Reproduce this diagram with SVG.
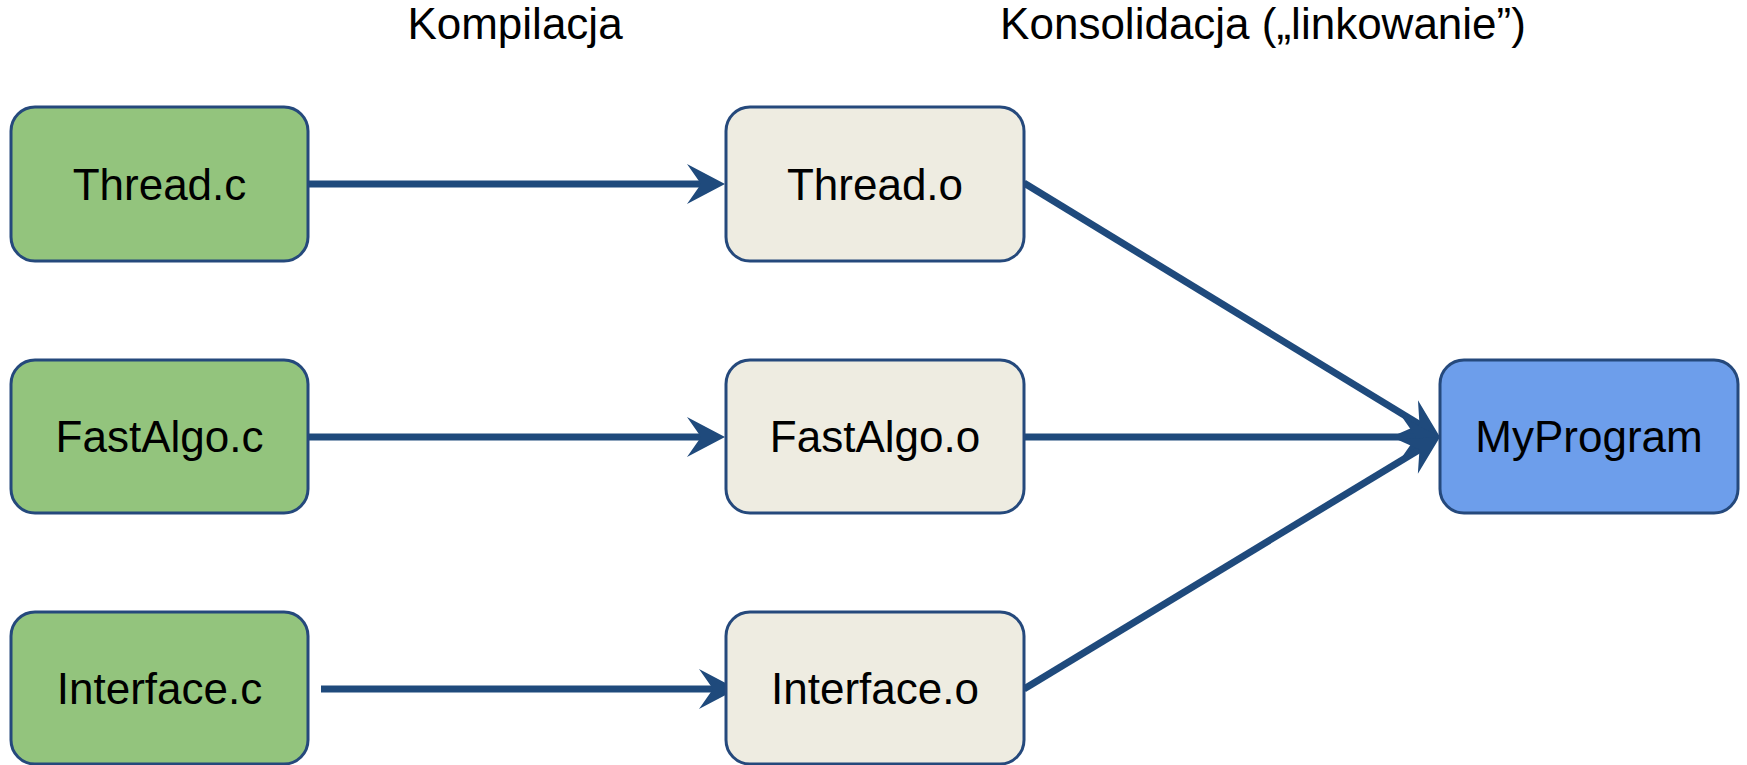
<svg xmlns="http://www.w3.org/2000/svg" width="1747" height="765" viewBox="0 0 1747 765">
  <style>
    .box { stroke: #25497c; stroke-width: 3; }
    .src { fill: #93c47d; }
    .obj { fill: #eeece1; }
    .exe { fill: #6d9eeb; }
    .lbl { font-family: "Liberation Sans", Arial, sans-serif; font-size: 44px; fill: #000; text-anchor: middle; }
    .conn { stroke: #1f4a7c; stroke-width: 7; fill: none; marker-end: url(#head); }
  </style>
  <defs>
    <marker id="head" markerUnits="userSpaceOnUse" viewBox="-20 -22 42 44" refX="0" refY="0" markerWidth="42" markerHeight="44" orient="auto" overflow="visible">
      <path d="M20,0 L-18,-20 L-4,0 L-18,20 Z" fill="#1f4a7c"/>
    </marker>
  </defs>
  <rect width="1747" height="765" fill="#ffffff"/>

  <text class="lbl" x="515" y="39">Kompilacja</text>
  <text class="lbl" x="1263" y="39">Konsolidacja („linkowanie”)</text>

  <g id="connectors">
    <line class="conn" x1="309" y1="184" x2="705" y2="184"/>
    <line class="conn" x1="309" y1="437" x2="705" y2="437"/>
    <line class="conn" x1="321" y1="689" x2="717" y2="689"/>
    <line class="conn" x1="1024" y1="183" x2="1422.9" y2="426.6"/>
    <line class="conn" x1="1024" y1="437" x2="1420" y2="437"/>
    <line class="conn" x1="1024" y1="689" x2="1422.9" y2="447.4"/>
  </g>

  <g id="thread-c">
    <rect class="box src" x="11" y="107" width="297" height="154" rx="24"/>
    <text class="lbl" x="159.5" y="200">Thread.c</text>
  </g>
  <g id="fastalgo-c">
    <rect class="box src" x="11" y="360" width="297" height="153" rx="24"/>
    <text class="lbl" x="159.5" y="452">FastAlgo.c</text>
  </g>
  <g id="interface-c">
    <rect class="box src" x="11" y="612" width="297" height="152" rx="24"/>
    <text class="lbl" x="159.5" y="704">Interface.c</text>
  </g>

  <g id="thread-o">
    <rect class="box obj" x="726" y="107" width="298" height="154" rx="24"/>
    <text class="lbl" x="875" y="200">Thread.o</text>
  </g>
  <g id="fastalgo-o">
    <rect class="box obj" x="726" y="360" width="298" height="153" rx="24"/>
    <text class="lbl" x="875" y="452">FastAlgo.o</text>
  </g>
  <g id="interface-o">
    <rect class="box obj" x="726" y="612" width="298" height="152" rx="24"/>
    <text class="lbl" x="875" y="704">Interface.o</text>
  </g>

  <g id="myprogram">
    <rect class="box exe" x="1440" y="360" width="298" height="153" rx="24"/>
    <text class="lbl" x="1589" y="452">MyProgram</text>
  </g>
</svg>
